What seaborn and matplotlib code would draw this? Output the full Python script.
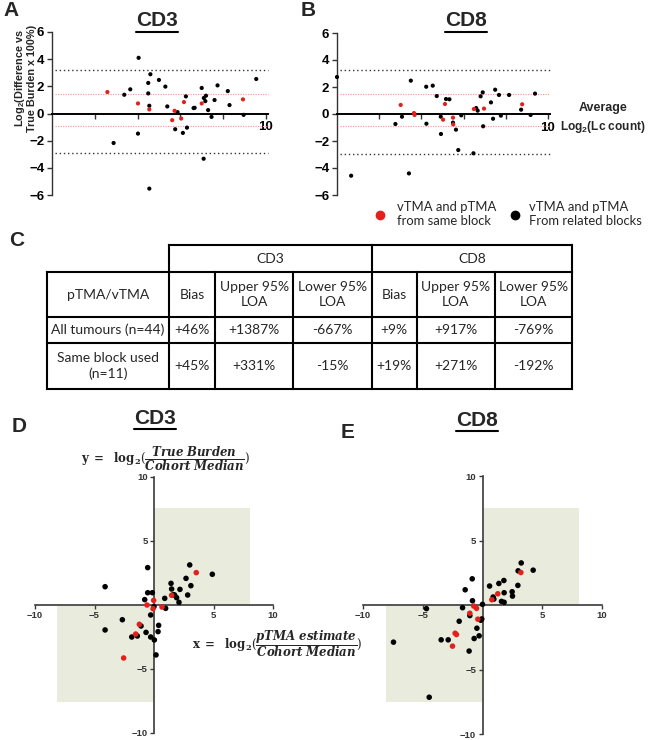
import numpy as np
import pandas as pd
import seaborn as sns
import matplotlib.pyplot as plt
from matplotlib.lines import Line2D
from matplotlib.patches import Rectangle

# ---- data ----
# A: CD3 Bland-Altman (x = average log2 count, y = log2 difference)
a_black_x = [4.05, 3.38, 3.66, 4.6, 4.5, 5.0, 4.5, 4.55, 5.3, 5.39, 4.02, 2.88, 4.55, 5.76, 5.87, 6.26,
             6.12, 6.31, 6.62, 6.67, 7.0, 7.1, 7.2, 7.17, 7.3, 7.46, 7.6, 7.74, 7.09, 8.22, 8.3, 8.96, 9.55]
a_black_y = [4.1, 1.38, 1.78, 2.89, 2.25, 2.47, 1.48, 0.57, 1.98, 0.52, -1.48, -2.17, -5.53, -1.16, 0.1, 1.26,
             -1.43, -1.04, 0.4, 0.42, 1.88, 1.14, 1.31, 0.91, 0.25, -0.25, 0.99, 2.07, -3.33, 1.65, 0.62, -0.1, 2.54]
a_red_x = [2.59, 4.02, 4.55, 5.73, 5.62, 6.04, 6.17, 7.0, 8.93]
a_red_y = [1.58, 0.74, 0.3, 0.2, -0.49, -0.37, 0.84, 0.74, 1.04]
a_loa = [3.23, -2.94]
a_red_lines = [1.43, -0.94]

# B: CD8 Bland-Altman
b_black_x = [0.0, 0.67, 2.77, 3.08, 3.5, 3.41, 4.23, 4.24, 4.54, 4.73, 4.92, 4.93, 5.17, 5.33, 5.5, 5.64,
             5.75, 5.89, 6.47, 6.6, 6.67, 6.81, 6.91, 6.93, 7.3, 7.4, 7.5, 7.68, 7.77, 8.16, 8.73, 9.18, 9.39]
b_black_y = [2.74, -4.57, -0.74, -0.2, 2.47, -4.4, 2.02, -0.72, 2.1, 1.33, -0.2, -1.48, 1.11, 1.09, -0.64, -1.16,
             -2.67, -0.1, -2.91, 0.44, 0.25, 1.31, 1.6, -0.91, 0.86, -0.35, 1.8, 1.41, -0.12, 1.41, 0.32, -0.07, 1.51]
b_red_x = [3.02, 3.65, 3.68, 5.03, 5.12, 5.5, 5.51, 6.49, 6.97, 8.78]
b_red_y = [0.67, 0.07, -0.07, -0.42, 0.74, -0.27, -0.77, 0.37, 0.4, 0.72]
b_loa = [3.23, -2.96]
b_red_lines = [1.46, -0.91]

# D: CD3 log2 ratio to cohort median
d_black_x = [-4.11, -4.11, -2.66, -1.87, -1.4, -1.09, -0.67, -0.53, -0.53, -0.78, -0.14, -0.28, -0.28, 0.0, 0.03, 0.17,
             0.34, 0.39, 0.9, 0.98, 1.43, 1.48, 1.62, 1.73, 1.9, 2.1, 2.18, 2.69, 2.83, 3.0, 3.1, 4.9]
d_black_y = [1.43, -1.95, -1.15, -2.5, -2.42, -1.64, -2.14, 2.92, 0.96, 0.42, 0.96, -0.78, -2.5, -0.13, -2.73, -3.9,
             -2.08, -1.59, 0.52, -0.26, 1.69, 1.25, 0.81, 0.78, 0.57, 0.21, 1.22, 2.08, 0.78, 3.13, 1.51, 2.4]
d_red_x = [-2.55, -1.54, -1.23, -0.59, -0.08, -0.03, 0.67, 1.48, 3.55]
d_red_y = [-4.14, -2.27, -1.51, 0.0, -0.29, 0.36, -0.16, 0.76, 2.53]

# E: CD8 log2 ratio to cohort median
e_black_x = [-7.45, -4.69, -4.46, -3.46, -2.87, -1.95, -1.67, -1.45, -1.12, -1.06, -0.86, -0.84, -0.7, -0.47, -0.28, -0.14,
             -0.06, 0.0, 0.59, 0.89, 0.95, 1.37, 1.59, 1.79, 1.81, 1.81, 2.48, 2.51, 2.96, 2.98, 3.24, 4.24]
e_black_y = [-2.88, -0.28, -7.15, -2.7, -2.7, -1.26, -0.21, 1.18, -3.57, -0.82, 2.03, 0.33, -2.6, -1.8, -2.39, -1.18,
             -1.08, 0.05, 1.47, 0.62, 0.46, 1.67, 0.28, 1.9, 0.95, 0.21, 1.03, 0.69, 1.52, 2.65, 3.26, 2.7]
e_red_x = [-2.51, -2.29, -2.18, -1.06, -0.73, -0.5, -0.39, 0.78, 1.28, 3.21]
e_red_y = [-3.19, -2.19, -2.29, -0.64, -0.08, -0.26, -1.1, 0.41, 0.87, 2.52]

# C: table
table_header = ["pTMA/vTMA", "Bias", "Upper 95%\nLOA", "Lower 95%\nLOA", "Bias", "Upper 95%\nLOA", "Lower 95%\nLOA"]
table_groups = ["CD3", "CD8"]
table_rows = [
    ["All tumours (n=44)", "+46%", "+1387%", "-667%", "+9%", "+917%", "-769%"],
    ["Same block used\n(n=11)", "+45%", "+331%", "-15%", "+19%", "+271%", "-192%"],
]

RED = "#e3211c"
SHADE = "#e9ecdc"
W, H = 648, 740

sns.set_theme(style="white")
plt.rcParams["font.family"] = ["Liberation Sans", "DejaVu Sans"]
plt.rcParams["mathtext.fontset"] = "custom"
plt.rcParams["mathtext.rm"] = "Liberation Sans"
plt.rcParams["mathtext.bf"] = "Liberation Sans:bold"
plt.rcParams["mathtext.it"] = "Liberation Sans:italic"


def fx(x):
    return x / W


def fy(y):
    return 1 - y / H


def make_df(bx, by, rx, ry):
    return pd.DataFrame({
        "x": bx + rx,
        "y": by + ry,
        "block": ["related"] * len(bx) + ["same"] * len(rx),
    })


fig = plt.figure(figsize=(W / 100, H / 100), dpi=100)
palette = {"related": "black", "same": RED}


def bland_altman(rect, df, loa, red_lines):
    ax = fig.add_axes(rect)
    for v in loa:
        ax.hlines(v, 0.15, 10.1, colors="#333333", linestyles=(0, (1, 2)), lw=1.0, clip_on=False, zorder=1)
    for v in red_lines:
        ax.hlines(v, 0.15, 10.1, colors="#f2a0a0", linestyles=(0, (1, 1)), lw=0.9, clip_on=False, zorder=1)
    sns.scatterplot(data=df, x="x", y="y", hue="block", palette=palette, s=9, linewidth=0,
                    legend=False, ax=ax, clip_on=False, zorder=3)
    ax.set_xlim(0, 10.1)
    ax.set_ylim(-6, 6)
    ax.spines[["top", "right"]].set_visible(False)
    ax.spines["bottom"].set_position(("data", 0))
    ax.spines["bottom"].set_linewidth(1.4)
    ax.spines["left"].set_linewidth(1.0)
    ax.spines["bottom"].set_color("black")
    ax.spines["left"].set_color("#333333")
    ax.set_xticks([2, 4, 6, 8, 10])
    ax.set_xticklabels(["", "", "", "", "10"])
    ax.set_yticks(np.arange(-6, 7, 2))
    ax.tick_params(axis="both", direction="out", length=3.5, width=1.0, colors="#333333",
                   labelcolor="black", labelsize=9.5, pad=2, bottom=True, left=True)
    for lab in ax.get_xticklabels() + ax.get_yticklabels():
        lab.set_fontweight("bold")
    ax.set_xlabel("")
    ax.set_ylabel("")
    return ax


ax_a = bland_altman([fx(52), fy(195), (268 - 52) / W, (195 - 32) / H],
                    make_df(a_black_x, a_black_y, a_red_x, a_red_y), a_loa, a_red_lines)
ax_b = bland_altman([fx(337), fy(195), (550 - 337) / W, (195 - 33) / H],
                    make_df(b_black_x, b_black_y, b_red_x, b_red_y), b_loa, b_red_lines)


def quadrant(rect, df, ext):
    ax = fig.add_axes(rect)
    (xr, yr), (xl, yl) = ext
    ax.add_patch(Rectangle((0, 0), xr, yr, facecolor=SHADE, edgecolor="none", zorder=0))
    ax.add_patch(Rectangle((xl, yl), -xl, -yl, facecolor=SHADE, edgecolor="none", zorder=0))
    sns.scatterplot(data=df, x="x", y="y", hue="block", palette=palette, s=16, linewidth=0,
                    legend=False, ax=ax, clip_on=False, zorder=3)
    ax.set_xlim(-10, 10)
    ax.set_ylim(-10, 10)
    ax.spines[["top", "right"]].set_visible(False)
    ax.spines["bottom"].set_position(("data", 0))
    ax.spines["left"].set_position(("data", 0))
    for s in ["bottom", "left"]:
        ax.spines[s].set_color("#3a3a3a")
        ax.spines[s].set_linewidth(1.2)
        ax.spines[s].set_zorder(2)
    ax.set_xticks([-10, -5, 5, 10])
    ax.set_yticks([-10, -5, 5, 10])
    ax.tick_params(axis="both", direction="out", length=3, width=1.0, colors="#3a3a3a",
                   labelcolor="#333333", labelsize=6.8, pad=1.5, bottom=True, left=True)
    for lab in ax.get_xticklabels() + ax.get_yticklabels():
        lab.set_fontweight("bold")
    ax.set_xlabel("")
    ax.set_ylabel("")
    ax.patch.set_alpha(0)
    return ax


ax_d = quadrant([fx(35), fy(733), 238 / W, 256 / H],
                make_df(d_black_x, d_black_y, d_red_x, d_red_y), ((8.1, 7.6), (-8.15, -7.6)))
ax_e = quadrant([fx(363), fy(734), 239 / W, 258 / H],
                make_df(e_black_x, e_black_y, e_red_x, e_red_y), ((8.1, 7.5), (-8.05, -7.5)))

# ---- table (panel C) ----
col_x = [46.7, 169.3, 215, 293.3, 371.7, 416.7, 495, 572.3]
row_y = [245, 272.3, 317, 343, 389]
ax_t = fig.add_axes([fx(col_x[0]), fy(row_y[-1]), (col_x[-1] - col_x[0]) / W, (row_y[-1] - row_y[0]) / H])
ax_t.set_xlim(col_x[0], col_x[-1])
ax_t.set_ylim(row_y[-1], row_y[0])
ax_t.axis("off")
kw = dict(color="black", lw=1.5, solid_capstyle="projecting", clip_on=False)
# group header box
ax_t.plot([col_x[1], col_x[-1]], [row_y[0], row_y[0]], **kw)
for x in [col_x[1], col_x[4], col_x[-1]]:
    ax_t.plot([x, x], [row_y[0], row_y[1]], **kw)
for y in row_y[1:]:
    ax_t.plot([col_x[0], col_x[-1]], [y, y], **kw)
for x in col_x:
    ax_t.plot([x, x], [row_y[1], row_y[-1]], **kw)

tfont = dict(family=["Lato", "DejaVu Sans"], fontsize=10, ha="center", va="center", linespacing=1.25)
for i, g in enumerate(table_groups):
    xc = (col_x[1 + 3 * i] + col_x[4 + 3 * i]) / 2
    ax_t.text(xc, (row_y[0] + row_y[1]) / 2, g, **tfont)
for j, h in enumerate(table_header):
    ax_t.text((col_x[j] + col_x[j + 1]) / 2, (row_y[1] + row_y[2]) / 2, h, **tfont)
for r, row in enumerate(table_rows):
    for j, v in enumerate(row):
        ax_t.text((col_x[j] + col_x[j + 1]) / 2, (row_y[2 + r] + row_y[3 + r]) / 2, v, **tfont)

# ---- titles, panel letters and labels ----
renderer = fig.canvas.get_renderer()


def underlined_title(x, y, s):
    t = fig.text(fx(x), fy(y), s, fontsize=15, fontweight="bold", ha="center", va="center")
    bb = t.get_window_extent(renderer)
    yl = bb.y0 - 1.5
    fig.add_artist(Line2D([bb.x0 / W, bb.x1 / W], [yl / H, yl / H], color="black", lw=1.5,
                          transform=fig.transFigure))


underlined_title(157, 21, "CD3")
underlined_title(466, 21, "CD8")
underlined_title(155, 418, "CD3")
underlined_title(477, 420, "CD8")

for letter, (x, y) in {"A": (11, 10), "B": (308, 10), "C": (17, 240), "D": (19, 427), "E": (348, 432)}.items():
    fig.text(fx(x), fy(y), letter, fontsize=15, fontweight="bold", ha="center", va="center")

fig.text(fx(20), fy(78), "Log$_\\mathbf{2}$(Difference vs", rotation=90,
         fontsize=7.8, fontweight="bold", ha="center", va="center")
fig.text(fx(32), fy(78), "True Burden x 100%)", rotation=90,
         fontsize=7.8, fontweight="bold", ha="center", va="center")
fig.text(fx(603), fy(108), "Average", fontsize=9, fontweight="bold", ha="center", va="center")
fig.text(fx(603), fy(127), "Log$_\\mathbf{2}$(Lc count)", fontsize=8.6, fontweight="bold",
         ha="center", va="center")

# legend
leg_font = dict(family=["Lato", "DejaVu Sans"], fontsize=9.4, ha="left", va="center", linespacing=1.25)
fig.add_artist(Line2D([fx(380)], [fy(215)], marker="o", markersize=6, color=RED, lw=0,
                      transform=fig.transFigure))
fig.text(fx(397), fy(214), "vTMA and pTMA\nfrom same block", **leg_font)
fig.add_artist(Line2D([fx(515)], [fy(215)], marker="o", markersize=6, color="black", lw=0,
                      transform=fig.transFigure))
fig.text(fx(529), fy(214), "vTMA and pTMA\nFrom related blocks", **leg_font)

# formula labels for D/E
fig.text(fx(166), fy(459), r"$\mathbf{y\ =\ \ log_2}(\dfrac{\mathbfit{True\ Burden}}{\mathbfit{Cohort\ Median}})$",
         math_fontfamily="dejavuserif", fontsize=8.5, ha="center", va="center")
fig.text(fx(192), fy(644), r"$\mathbf{x\ =\ \ log_2}(\dfrac{\mathbfit{pTMA\ estimate}}{\mathbfit{Cohort\ Median}})$",
         math_fontfamily="dejavuserif", fontsize=8.5, ha="left", va="center")

fig.savefig("out.png", dpi=100)
